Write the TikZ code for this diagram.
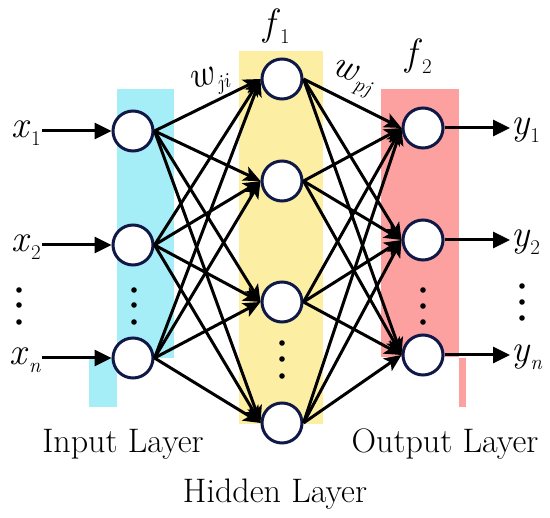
\documentclass[tikz,border=0pt]{standalone}
\usepackage{fontspec}
\usetikzlibrary{arrows.meta}
\definecolor{incol}{HTML}{A5EEF8}
\definecolor{hidcol}{HTML}{FCEEA3}
\definecolor{outcol}{HTML}{FCA0A0}
\definecolor{ringcol}{HTML}{101848}
\newcommand{\varsub}[2]{\textit{#1}\raisebox{-0.2em}{\fontsize{21}{21}\selectfont #2}}
\begin{document}
\begin{tikzpicture}[x=1pt,y=-1pt,
  neuron/.style={circle,draw=ringcol,line width=3pt,fill=white,minimum size=40pt,inner sep=0pt},
  conn/.style={line width=3pt,-{Stealth[length=17pt,width=15pt,inset=4pt]}},
  ioarrow/.style={line width=3pt,-{Triangle[length=17pt,width=16pt]}},
  varlabel/.style={font=\fontsize{38}{44}\selectfont,inner sep=1pt},
  layerlabel/.style={font=\fontsize{34}{40}\selectfont,inner sep=0pt},
  dotmark/.style={fill=black}]
\useasboundingbox (0,0) rectangle (550,518);
% bands
\fill[incol] (117,89) rectangle (174,358);
\fill[incol] (89,358) rectangle (117,407);
\fill[hidcol] (239,51) rectangle (323,424);
\fill[outcol] (381,89) rectangle (459,357);
\fill[outcol] (459,358) rectangle (466,407);
% neurons
\node[neuron] (i1) at (133,131) {};
\node[neuron] (i2) at (133,245) {};
\node[neuron] (i3) at (133,358) {};
\node[neuron] (h1) at (282,79) {};
\node[neuron] (h2) at (282,181) {};
\node[neuron] (h3) at (282,302) {};
\node[neuron] (h4) at (282,423) {};
\node[neuron] (o1) at (423,128) {};
\node[neuron] (o2) at (423,240) {};
\node[neuron] (o3) at (423,355) {};
% variable labels
\node[varlabel,anchor=base east] (lx1) at (42,138) {\varsub{x}{1}};
\node[varlabel,anchor=base east] (lx2) at (42,252) {\varsub{x}{2}};
\node[varlabel,anchor=base east] (lx3) at (42,365) {\varsub{x}{\textit{n}}};
\node[varlabel,anchor=base west] (ly1) at (510,135) {\varsub{y}{1}};
\node[varlabel,anchor=base west] (ly2) at (510,247) {\varsub{y}{2}};
\node[varlabel,anchor=base west] (ly3) at (510,362) {\varsub{y}{\textit{n}}};
\node[varlabel,anchor=base west] (lf1) at (262,36) {\varsub{f}{1}};
\node[varlabel,anchor=base west] (lf2) at (404,66) {\varsub{f}{2}};
\node[varlabel,rotate=15,inner sep=0pt] (lw1) at (210,82) {\varsub{w}{\textit{ji}}};
\node[varlabel,rotate=-20,inner sep=0pt] (lw2) at (352,79) {\varsub{w}{\textit{pj}}};
% layer labels
\node[layerlabel,anchor=base] (lin) at (123,453) {Input Layer};
\node[layerlabel,anchor=base] (lout) at (445,453) {Output Layer};
\node[layerlabel,anchor=base] (lhid) at (275,503) {Hidden Layer};
% input / output arrows
\foreach \k in {1,2,3} {
  \draw[ioarrow] (lx\k.east |- i\k.west) -- (i\k.west);
  \draw[ioarrow] (o\k.east) -- (o\k.east -| ly\k.west);
}
% connections
\foreach \a in {1,2,3} {
  \foreach \b in {1,2,3,4} {
    \draw[conn] (i\a.east) -- (h\b.west);
  }
}
\foreach \a in {1,2,3,4} {
  \foreach \b in {1,2,3} {
    \draw[conn] (h\a.east) -- (o\b.west);
  }
}
% ellipsis dots
\foreach \x/\ya/\yb/\yc in {19/290/305/322, 134/290/305/322, 282/343/359/376, 423/290/306/322, 522/286/302/318} {
  \fill[dotmark] (\x,\ya) circle (2.8pt);
  \fill[dotmark] (\x,\yb) circle (2.8pt);
  \fill[dotmark] (\x,\yc) circle (2.8pt);
}
\end{tikzpicture}
\end{document}
